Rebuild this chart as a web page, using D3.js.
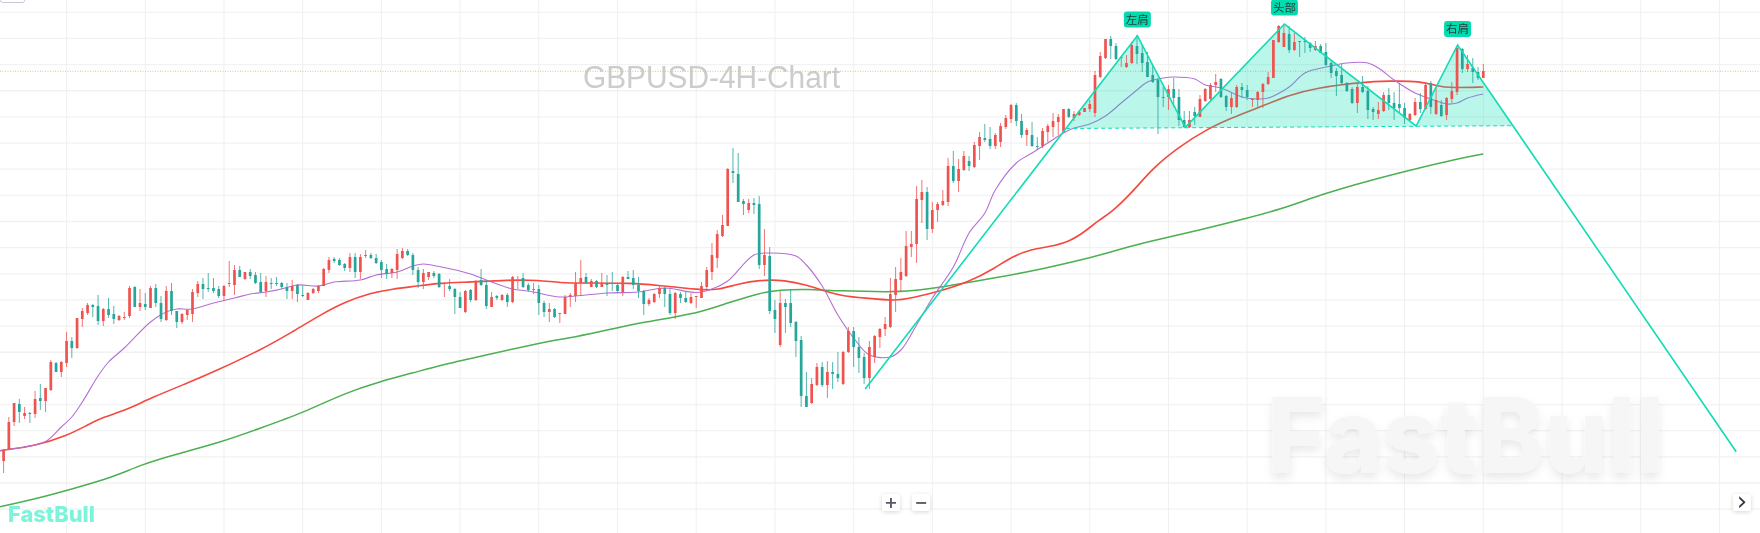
<!DOCTYPE html>
<html>
<head>
<meta charset="utf-8">
<title>GBPUSD-4H-Chart</title>
<script src="https://cdn.jsdelivr.net/npm/d3@7/dist/d3.min.js"></script>
<style>
html,body{margin:0;padding:0;background:#fff;overflow:hidden}
svg{display:block;filter:blur(.35px)}
</style>
</head>
<body>
<svg id="chart" width="1760" height="533"></svg>
<script>
// values are pips above the lowest level of the window, one array per field, one entry per 4H bar
var opens=[72,84,111,129,117,120,119,135,132,143,170,161,170,192,185,214,220,228,227,212,
224,219,213,215,217,246,226,229,225,245,230,213,242,222,211,218,219,240,249,245,
245,244,237,249,248,263,254,261,258,251,242,250,250,250,246,242,248,238,233,240,
242,247,263,274,273,269,265,276,261,277,278,275,271,264,260,263,275,282,278,263,
251,256,260,259,249,247,244,236,221,243,233,253,248,226,237,233,238,231,252,255,
248,243,244,230,221,224,219,219,236,237,250,256,246,252,246,250,250,248,241,256,
255,248,242,229,231,239,245,239,220,239,235,230,236,235,246,261,275,297,307,362,
359,332,323,330,329,268,277,223,188,230,230,211,193,137,130,148,166,148,161,159,
149,181,202,186,176,155,176,196,204,206,238,253,257,286,289,333,341,304,323,328,
331,367,352,363,372,366,387,395,394,387,391,406,414,428,412,398,398,387,387,401,
406,411,401,424,415,418,421,424,420,456,475,494,487,475,466,470,487,480,471,458,
453,436,436,444,436,413,406,421,416,432,434,448,454,437,426,426,446,443,433,433,
441,449,455,491,486,499,483,492,492,490,483,487,481,470,462,458,450,444,430,446,
442,424,419,422,438,430,429,425,413,418,431,424,450,419,428,418,434,441,484,464,
465,461,455];
var highs=[84,116,130,134,126,121,142,149,145,173,171,172,201,196,215,225,230,229,238,225,
235,227,218,221,247,247,244,240,247,249,237,247,250,222,220,224,244,252,255,260,
255,247,248,272,268,267,261,264,261,260,257,255,256,251,250,253,249,247,241,245,
248,265,276,276,275,270,280,280,279,283,280,279,273,269,265,284,285,284,280,266,
264,261,262,260,251,254,245,241,243,244,253,264,253,241,238,239,240,257,257,260,
250,250,248,232,230,225,220,238,240,261,273,260,254,253,260,258,261,249,257,262,
263,256,243,235,240,248,246,244,241,241,241,240,237,251,266,290,303,318,365,385,
380,334,334,335,337,304,286,233,242,234,243,212,197,161,155,170,171,172,171,181,
182,206,206,196,180,192,198,205,216,255,266,275,302,302,347,353,346,331,331,343,
375,382,374,382,377,391,401,409,406,400,410,418,429,430,419,405,411,396,405,409,
420,419,424,425,422,423,425,433,462,481,494,497,490,477,478,491,498,488,481,468,
455,446,448,455,444,422,422,426,438,445,450,459,455,438,440,448,450,448,435,442,
450,461,493,508,509,507,500,492,496,491,492,489,490,472,465,469,451,446,450,457,
447,426,431,441,445,441,450,430,420,435,440,451,452,446,433,436,451,486,485,478,
475,466,469];
var lows=[60,83,107,110,114,110,115,123,121,142,161,156,166,175,184,206,218,216,208,207,
215,209,212,213,215,226,222,223,225,226,211,212,218,205,209,213,211,236,234,241,
240,235,232,246,238,256,253,254,249,240,236,244,247,244,234,234,231,236,233,239,
240,247,260,270,267,262,261,255,254,275,274,269,255,254,255,254,274,277,258,245,
244,253,255,245,236,242,219,225,220,231,232,247,224,226,233,232,226,230,244,245,
241,239,218,216,211,215,210,219,226,231,237,249,246,245,246,237,242,240,237,254,
244,235,218,227,230,235,226,218,214,230,230,229,225,235,243,253,265,296,307,350,
331,318,320,319,264,257,219,200,186,200,206,176,126,126,129,147,146,135,144,151,
148,180,166,160,149,144,170,185,197,205,221,242,256,276,270,310,293,300,311,327,
327,350,341,362,362,365,373,391,384,384,386,404,410,407,395,387,386,383,385,391,
396,398,401,415,412,417,421,421,416,455,474,474,473,466,465,469,469,461,456,450,
399,426,423,426,407,405,405,408,416,431,432,441,435,422,419,425,435,433,426,426,
425,448,455,490,486,480,482,476,480,481,482,480,467,455,437,448,441,429,420,440,
414,413,414,421,423,413,420,409,412,417,420,423,419,418,416,413,430,438,460,461,
450,453,455];
var closes=[83,111,130,121,120,119,134,132,145,171,161,171,192,185,215,222,228,226,212,224,
218,214,217,216,245,226,230,226,245,230,214,242,222,211,219,223,241,249,244,244,
242,237,247,250,263,256,261,257,250,241,251,249,249,246,242,247,239,237,240,244,
247,264,273,272,268,265,276,261,276,278,275,270,263,259,264,279,282,278,263,251,
260,261,257,246,250,244,236,225,242,233,252,248,227,236,235,238,231,256,253,246,
243,244,230,221,224,216,220,236,238,250,255,250,252,246,250,248,249,242,256,254,
248,242,229,233,239,245,239,220,240,235,231,236,237,247,263,278,299,308,364,360,
331,329,330,328,268,278,222,214,230,226,210,192,137,126,149,166,148,161,159,155,
181,202,186,175,155,186,197,204,209,239,254,261,287,289,334,341,304,323,329,332,
367,352,364,377,367,388,396,393,387,398,407,415,428,412,398,403,387,386,402,407,
412,416,424,416,419,421,425,429,458,477,494,487,474,476,470,488,479,470,456,451,
436,435,444,435,413,406,413,417,434,444,448,451,436,426,435,446,443,436,434,441,
449,456,493,507,500,483,491,491,491,485,487,480,468,460,457,450,442,430,446,441,
423,421,423,438,430,425,425,415,419,431,424,448,426,433,417,435,442,485,464,469,
461,455,462];

// moving averages, read at the bars in the matching *Bars array
var fastBars=[-1,0,4,8,11,13,15,18,20,23,28,31,33,36,40,44,47,50,53,56,60,63,68,71,75,78,80,83,89,93,97,100,106,109,115,121,126,132,135,138,143,146,151,153,156,159,162,165,169,171,174,177,181,184,187,189,193,196,199,202,204,207,210,213,216,218,221,223,227,229,232,236,239,241,245,248,253,256,260,262,265,269,272,275,277,279,282];
var fastMA=[82,83,86,91.5,106,116,131,157,171,185,211,221,224,224,230,235,239,241,244,248,247,251,253,258,261,267,269,266.5,259,251,244,242,236,237,240,241,245,240.5,244,252,278,280,277,268,247,218,195,178,176,183,208,235,266,300,320,343,370,380,390,400,405,409,417,430,443,451,455,456,454,448,445,436,434,435,446,460,467,470,470,465,453,440,434,429,430,435,439];
var midBars=[-1,0,6,12,16,19,23,28,36,40,49,55,60,65,70,74,79,83,89,96,102,106,111,120,124,133,136,140,144,149,153,157,160,164,170,173,178,184,189,192,196,199,203,206,209,211,215,219,224,229,234,239,245,250,259,264,270,273,276,282];
var midMA=[82,83,87,97,108,116,122,135,152,161,183,201,217,231,240,244,247,250,251,253,253,250,250,250,248,243,243,249,253,253,248,241,237,235,232,235,241,251,265,276,284,286,291,301,314,320,340,365,386,403,415,425,438,445,451,452,452,447,445,446];
var slowBars=[-1,0,6,13,21,26,33,41,49,57,65,72,78,83,92,102,109,116,121,128,133,138,144,148,153,159,169,173,179,190,198,207,211,217,228,237,243,252,260,269,277,282];
var slowMA=[26,27,34,44,56,68,79,90,105,120,140,152,160,167.5,178,190,196,204,210,216,221,230,240,243,244,242,241,242,246,256,264,275,281,290,303,315,323,340,352,364,374,379];

// head and shoulders drawing, bar index (past the last bar too) and level
var patternBars=[164.2,216.07,225.2,244.1,269.2,277.1,330.2];
var patternLevels=[144,497.3,405.7,509,407,488,81.3];
var necklineBars=[202.5,287.7];
var necklineLevels=[404.5,407.3];
var shoulderNames=["左肩","头部","右肩"];
var shoulderBars=[216.07,244.1,277.1];
var shoulderLevels=[513.5,525.5,504];

var lastPrice=461.7;
var gridBars=d3.range(12,345,15);
var gridLevels=d3.range(520.7,0,-26.15);

var W=1760,H=533;
var x=d3.scaleLinear().domain([0,282]).range([3.6,1483.3]);
var y=d3.scaleLinear().domain([0,533]).range([533,0]);
var svg=d3.select("#chart");

var defs=svg.append("defs");
var soft=defs.append("filter").attr("id","soft").attr("x","-30%").attr("y","-30%").attr("width","160%").attr("height","160%");
soft.append("feDropShadow").attr("dx",0).attr("dy",5).attr("stdDeviation",5).attr("flood-color","#000").attr("flood-opacity",0.09);
var btn=defs.append("filter").attr("id","btn").attr("x","-40%").attr("y","-40%").attr("width","180%").attr("height","180%");
btn.append("feDropShadow").attr("dx",0).attr("dy",1).attr("stdDeviation",2).attr("flood-color","#000").attr("flood-opacity",0.16);

// grid
svg.append("g").selectAll("line").data(gridLevels).enter().append("line")
  .attr("x1",0).attr("x2",W)
  .attr("y1",function(d){return y(d)}).attr("y2",function(d){return y(d)})
  .attr("stroke","#f2f2f2").attr("stroke-width",1.3);
svg.append("g").selectAll("line").data(gridBars).enter().append("line")
  .attr("y1",0).attr("y2",H)
  .attr("x1",function(d){return x(d)}).attr("x2",function(d){return x(d)})
  .attr("stroke","#f0f0f0").attr("stroke-width",1);

// watermarks
svg.append("text").attr("x",1267).attr("y",473)
  .attr("font-family","Inter, Lato, sans-serif").attr("font-weight",800).attr("font-size",104)
  .attr("textLength",397).attr("lengthAdjust","spacingAndGlyphs")
  .attr("fill","#f6f6f6").attr("filter","url(#soft)").text("FastBull");
svg.append("text").attr("x",583).attr("y",88)
  .attr("font-family","Liberation Sans, Arial, sans-serif").attr("font-size",31)
  .attr("textLength",257).attr("lengthAdjust","spacingAndGlyphs")
  .attr("fill","#cccccc").text("GBPUSD-4H-Chart");
svg.append("text").attr("x",8).attr("y",522)
  .attr("font-family","Inter, Lato, sans-serif").attr("font-weight",800).attr("font-size",22)
  .attr("textLength",87).attr("lengthAdjust","spacingAndGlyphs")
  .attr("fill","#7df3da").text("FastBull");

// small box cut off by the top edge
svg.append("rect").attr("x",0.5).attr("y",-12).attr("width",24).attr("height",14.5).attr("rx",2)
  .attr("fill","#fff").attr("stroke","#c9c6d6").attr("stroke-width",1);

// last price line
svg.append("line").attr("x1",0).attr("x2",W).attr("y1",y(lastPrice)).attr("y2",y(lastPrice))
  .attr("stroke","#eebf6d").attr("stroke-width",1).attr("stroke-dasharray","1 1.5");

// moving averages
var lineOf=function(curve)
{
return d3.line().curve(curve).x(function(d){return x(d[0])}).y(function(d){return y(d[1])});
}
var drawMA=function(bars,values,curve,color,width)
{
svg.append("path")
  .attr("d",lineOf(curve)(d3.zip(bars,values)))
  .attr("fill","none").attr("stroke",color).attr("stroke-width",width);
}
drawMA(slowBars,slowMA,d3.curveBasis,"#4caf50",1.5);
drawMA(midBars,midMA,d3.curveBasis,"#f5483f",1.6);
drawMA(fastBars,fastMA,d3.curveCatmullRom,"#b56fd4",1.1);

// pattern fill sits over the averages, under the candles
var straight=d3.line().x(function(d){return x(d[0])}).y(function(d){return y(d[1])});
var pattern=d3.zip(patternBars,patternLevels);
var neckline=d3.zip(necklineBars,necklineLevels);
var area=[neckline[0]].concat(pattern.slice(1,6),[neckline[1]]);
svg.append("path").attr("d",straight(area)+"Z").attr("fill","#00dcb0").attr("fill-opacity",0.27);

// candles
var bars=d3.range(opens.length);
var candleColor=function(i){return closes[i]>=opens[i]?"#ef5350":"#26a69a"};
svg.append("g").selectAll("line").data(bars).enter().append("line")
  .attr("x1",function(i){return x(i)}).attr("x2",function(i){return x(i)})
  .attr("y1",function(i){return y(highs[i])}).attr("y2",function(i){return y(lows[i])})
  .attr("stroke",candleColor).attr("stroke-width",1).attr("stroke-opacity",0.8);
svg.append("g").selectAll("rect").data(bars).enter().append("rect")
  .attr("x",function(i){return x(i)-1.35}).attr("width",2.7)
  .attr("y",function(i){return y(Math.max(opens[i],closes[i]))})
  .attr("height",function(i){return Math.max(1,Math.abs(y(opens[i])-y(closes[i])))})
  .attr("fill",candleColor);

// pattern outline and neckline
svg.append("path").attr("d",straight(pattern)).attr("fill","none").attr("stroke","#12dcb4").attr("stroke-width",1.6);
svg.append("path").attr("d",straight(neckline)).attr("fill","none").attr("stroke","#12dcb4")
  .attr("stroke-width",1).attr("stroke-dasharray","4 3");

// shoulder labels
var tags=svg.append("g").selectAll("g").data(shoulderNames).enter().append("g")
  .attr("transform",function(d,i){return "translate("+x(shoulderBars[i])+","+y(shoulderLevels[i])+")"});
tags.append("rect").attr("x",-13.5).attr("y",-8).attr("width",27).attr("height",16).attr("rx",3).attr("fill","#00dcb0");
tags.append("text").attr("text-anchor","middle").attr("dy","0.36em")
  .attr("font-family","Noto Sans CJK SC, sans-serif").attr("font-size",11.5).attr("fill","#2b3a38")
  .text(function(d){return d});

// zoom and scroll buttons
var buttons=svg.append("g");
[[882,"+"],[912,"−"],[1733,"›"]].forEach(function(b)
{
buttons.append("rect").attr("x",b[0]).attr("y",494).attr("width",18).attr("height",17).attr("rx",3)
  .attr("fill","#fff").attr("filter","url(#btn)");
buttons.append("text").attr("x",b[0]+9).attr("y",b[1]=="›"?501:502.5).attr("dy","0.35em").attr("text-anchor","middle")
  .attr("font-family","DejaVu Sans, sans-serif").attr("font-size",b[1]=="›"?26:16).attr("font-weight",b[1]=="›"?400:700)
  .attr("fill",b[1]=="›"?"#333a44":"#555a66").text(b[1]);
});
</script>
</body>
</html>
